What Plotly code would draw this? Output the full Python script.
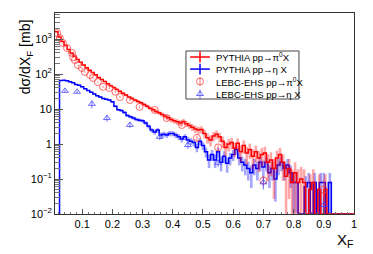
import numpy as np
import plotly.graph_objects as go

# ---------------- data ----------------
BIN_W = 0.01
RED_X0 = 0.01   # first left edge, PYTHIA pp->pi0 X
PYTHIA_PI0 = [1600, 1150, 850, 650, 500, 400, 320, 260, 215, 180,
              150, 128, 110, 95, 80, 70, 61, 53, 46, 41,
              36, 32, 28, 25, 22, 20, 18, 16.5, 15, 13.5,
              12, 10.5, 9.5, 8.5, 7.8, 7, 6.2, 5.6, 5, 4.6,
              4.3, 4.0, 4.4, 3.8, 3.4, 3.0, 2.7, 2.5, 2.6, 2.0,
              1.5, 1.3, 1.7, 1.9, 1.6, 1.2, 0.8, 1.0, 1.1, 0.75,
              1.05, 0.6, 0.9, 0.55, 0.7, 0.45, 0.6, 0.4, 0.5, 0.55,
              0.3, 0.35, 0.2, 0.4, 0.5, 0.3, 0.12, 0.2, 0.08, 0.15,
              0.08, 0.1, 0.08, 0, 0.05, 0.08, 0, 0.05, 0, 0.05,
              0, 0, 0, 0, 0, 0, 0, 0, 0]
BLUE_X0 = 0.025  # first left edge, PYTHIA pp->eta X
PYTHIA_ETA = [65, 66, 64, 60, 56, 50, 48, 43, 38, 34,
              30, 27, 24, 22, 20, 19, 18, 16, 12, 9.5,
              9, 8, 6.5, 6, 5.5, 5, 4.8, 4.6, 4.0, 3.2,
              2.5, 2.2, 2.5, 1.8, 1.9, 1.8, 2.0, 2.0, 1.8, 1.6,
              1.4, 1.6, 1.3, 1.2, 1.1, 0.8, 1.2, 0.9, 0.6, 0.35,
              0.5, 0.35, 0.6, 0.3, 0.45, 0.28, 0.4, 0.5, 0.7, 0.4,
              0.3, 0.25, 0.2, 0.15, 0.25, 0.2, 0.3, 0.22, 0.3, 0.15,
              0.2, 0.1, 0.25, 0.3, 0.2, 0.25, 0.15, 0.08, 0.08, 0,
              0, 0.06, 0.08, 0, 0.08, 0, 0.08, 0.08, 0, 0.08,
              0, 0, 0, 0, 0, 0, 0]
W_PI0 = 0.15   # per-event weight (statistical errors)
W_ETA = 0.06

LEBC_PI0_X = [0.017, 0.026, 0.036, 0.05, 0.066, 0.07, 0.076, 0.086, 0.099, 0.109,
              0.126, 0.136, 0.152, 0.169, 0.19, 0.21, 0.225, 0.258, 0.29, 0.34,
              0.38, 0.43, 0.48, 0.55, 0.70, 0.90]
LEBC_PI0_Y = [1480, 1070, 770, 550, 400, 300, 250, 180, 148, 114,
              94, 77, 59, 43, 40, 31, 22, 18, 11.5, 9.4,
              5.5, 3.5, 1.5, 0.8, 0.09, 0.05]
LEBC_PI0_E = [30, 25, 20, 15, 12, 10, 9, 7, 6, 5,
              4, 3.5, 3, 2.5, 2.5, 2, 1.5, 1.5, 1, 1,
              0.6, 0.4, 0.25, 0.15, 0.03, 0.045]

LEBC_ETA_X = [0.043, 0.083, 0.132, 0.182, 0.258, 0.357, 0.45, 0.55, 0.70, 0.90]
LEBC_ETA_Y = [33, 31, 14, 5.5, 3.5, 1.6, 0.93, 0.29, 0.08, 0.018]
LEBC_ETA_E = [3, 3, 3.5, 1.2, 0.6, 0.3, 0.2, 0.07, 0.03, 0.012]

X_TICKS = [0.1, 0.2, 0.3, 0.4, 0.5, 0.6, 0.7, 0.8, 0.9, 1.0]
X_TICK_TEXT = ["0.1", "0.2", "0.3", "0.4", "0.5", "0.6", "0.7", "0.8", "0.9", "1"]
Y_TICKS = [0.01, 0.1, 1, 10, 100, 1000]
Y_TICK_TEXT = ["10<sup>\u22122</sup>", "10<sup>\u22121</sup>", "1", "10",
               "10<sup>2</sup>", "10<sup>3</sup>"]

LEGEND_LABELS = ["PYTHIA pp\u2192\u03c0<sup>0</sup>X", "PYTHIA pp\u2192\u03b7 X",
                 "LEBC-EHS pp\u2192\u03c0<sup>0</sup>X", "LEBC-EHS pp\u2192\u03b7 X"]

YMIN_LOG, YMAX_LOG = -2, 3.743
XMIN, XMAX = 0.01, 1.0
FLOOR = 10 ** YMIN_LOG

RED = "rgb(255,0,0)"
BLUE = "rgb(0,0,255)"
FONT = "Liberation Sans, Arial, sans-serif"

fig = go.Figure()


def hist_traces(x0, vals, color, errcol, w, start_from_floor):
    vals = np.array(vals, dtype=float)
    n = len(vals)
    edges = x0 + BIN_W * np.arange(n + 1)
    plotv = np.where(vals > 0, vals, FLOOR)
    if start_from_floor:
        xs = np.concatenate([[edges[0]], edges])
        ys = np.concatenate([[FLOOR], plotv, [plotv[-1]]])
    else:
        xs = edges
        ys = np.concatenate([plotv, [plotv[-1]]])
    centers = edges[:-1] + BIN_W / 2
    m = vals > 0
    err = np.sqrt(vals[m] * w)
    errm = np.minimum(err, vals[m] * 0.999)
    fig.add_trace(go.Scatter(x=centers[m], y=vals[m], mode="markers",
                             marker=dict(size=1, color=errcol, opacity=0),
                             error_y=dict(type="data", array=err, arrayminus=errm,
                                          color=errcol, thickness=2.6, width=0),
                             showlegend=False, hoverinfo="skip"))
    fig.add_trace(go.Scatter(x=xs, y=ys, mode="lines", line=dict(color=color, width=1.5, shape="hv"),
                             showlegend=False, hoverinfo="skip"))


hist_traces(BLUE_X0, PYTHIA_ETA, BLUE, "rgba(0,0,255,0.35)", W_ETA, True)
hist_traces(RED_X0, PYTHIA_PI0, RED, "rgba(255,0,0,0.35)", W_PI0, False)

fig.add_trace(go.Scatter(x=LEBC_PI0_X, y=LEBC_PI0_Y, mode="markers",
                         marker=dict(symbol="circle-open", size=7, color="rgba(255,60,60,0.75)",
                                     line=dict(width=1)),
                         error_y=dict(type="data", array=LEBC_PI0_E, color="rgba(255,60,60,0.6)",
                                      thickness=1.2, width=0),
                         showlegend=False))
fig.add_trace(go.Scatter(x=LEBC_ETA_X, y=LEBC_ETA_Y, mode="markers",
                         marker=dict(symbol="triangle-up-open", size=6, color="rgba(60,60,255,0.75)",
                                     line=dict(width=1)),
                         error_y=dict(type="data", array=LEBC_ETA_E, color="rgba(60,60,255,0.6)",
                                      thickness=1.2, width=0),
                         showlegend=False))

# ---------------- legend (drawn on an overlay axis in paper-like units) ----------------
L_X0, L_X1, L_Y0, L_Y1 = 0.438, 0.816, 0.572, 0.811
ROW_Y = [0.781, 0.721, 0.659, 0.597]
SYM_X, SYM_HALF, TXT_X = 0.485, 0.033, 0.532

fig.add_shape(type="rect", xref="paper", yref="paper", x0=L_X0, x1=L_X1, y0=L_Y0, y1=L_Y1,
              line=dict(color="#444", width=1), fillcolor="white", layer="below")
for i, col in enumerate([RED, BLUE]):
    fig.add_shape(type="line", xref="paper", yref="paper", x0=SYM_X - SYM_HALF, x1=SYM_X + SYM_HALF,
                  y0=ROW_Y[i], y1=ROW_Y[i], line=dict(color=col, width=1.5), layer="above")
    fig.add_shape(type="line", xref="paper", yref="paper", x0=SYM_X, x1=SYM_X,
                  y0=ROW_Y[i] - 0.027, y1=ROW_Y[i] + 0.027, line=dict(color=col, width=1.5), layer="above")
fig.add_trace(go.Scatter(x=[SYM_X], y=[ROW_Y[2]], xaxis="x2", yaxis="y2", mode="markers",
                         marker=dict(symbol="circle-open", size=7, color="rgba(255,60,60,0.75)", line=dict(width=1)),
                         error_y=dict(type="data", array=[0.022], color="rgba(255,60,60,0.6)", thickness=1.2, width=0),
                         showlegend=False, hoverinfo="skip"))
fig.add_trace(go.Scatter(x=[SYM_X], y=[ROW_Y[3]], xaxis="x2", yaxis="y2", mode="markers",
                         marker=dict(symbol="triangle-up-open", size=6, color="rgba(60,60,255,0.75)", line=dict(width=1)),
                         error_y=dict(type="data", array=[0.022], color="rgba(60,60,255,0.6)", thickness=1.2, width=0),
                         showlegend=False, hoverinfo="skip"))
for i, lab in enumerate(LEGEND_LABELS):
    fig.add_annotation(x=TXT_X, y=ROW_Y[i], xref="paper", yref="paper", text=lab, showarrow=False,
                       xanchor="left", yanchor="middle", font=dict(family=FONT, size=9.5, color="black"))

# ---------------- axis titles ----------------
fig.add_annotation(x=-0.097, y=0.785, xref="paper", yref="paper", text="d\u03c3/dX<sub>F</sub> [mb]",
                   textangle=-90, showarrow=False, xanchor="center", yanchor="middle",
                   font=dict(family=FONT, size=14, color="black"))
fig.add_annotation(x=1.004, y=-0.075, xref="paper", yref="paper", text="X<sub>F</sub>",
                   showarrow=False, xanchor="right", yanchor="top",
                   font=dict(family=FONT, size=15, color="black"))

minor_y = [m * 10 ** d for d in range(-2, 4) for m in range(2, 10)]

fig.update_layout(
    width=373, height=254, margin=dict(l=55, r=19, t=13, b=40),
    paper_bgcolor="white", plot_bgcolor="white",
    font=dict(family=FONT, size=11, color="black"),
    xaxis=dict(range=[XMIN, XMAX], tickmode="array", tickvals=X_TICKS, ticktext=X_TICK_TEXT,
               ticks="inside", ticklen=5, tickcolor="#555", showgrid=False, zeroline=False,
               showline=True, linecolor="#333", linewidth=1, mirror=True,
               minor=dict(ticks="inside", ticklen=2.5, dtick=0.02, tick0=0, tickcolor="#777", showgrid=False),
               tickfont=dict(size=11)),
    yaxis=dict(type="log", range=[YMIN_LOG, YMAX_LOG], tickmode="array", tickvals=Y_TICKS,
               ticktext=Y_TICK_TEXT, ticks="inside", ticklen=8, tickcolor="#555",
               showgrid=False, zeroline=False, showline=True, linecolor="#333", linewidth=1, mirror=True,
               minor=dict(ticks="inside", ticklen=4.5, tickmode="array", tickvals=minor_y, tickcolor="#777",
                          showgrid=False),
               tickfont=dict(size=11)),
    xaxis2=dict(range=[0, 1], overlaying="x", visible=False, fixedrange=True),
    yaxis2=dict(range=[0, 1], overlaying="y", visible=False, fixedrange=True),
    showlegend=False,
)

fig.write_html("out.html", config={"displayModeBar": False},
               post_script="document.body.style.margin='0';")
